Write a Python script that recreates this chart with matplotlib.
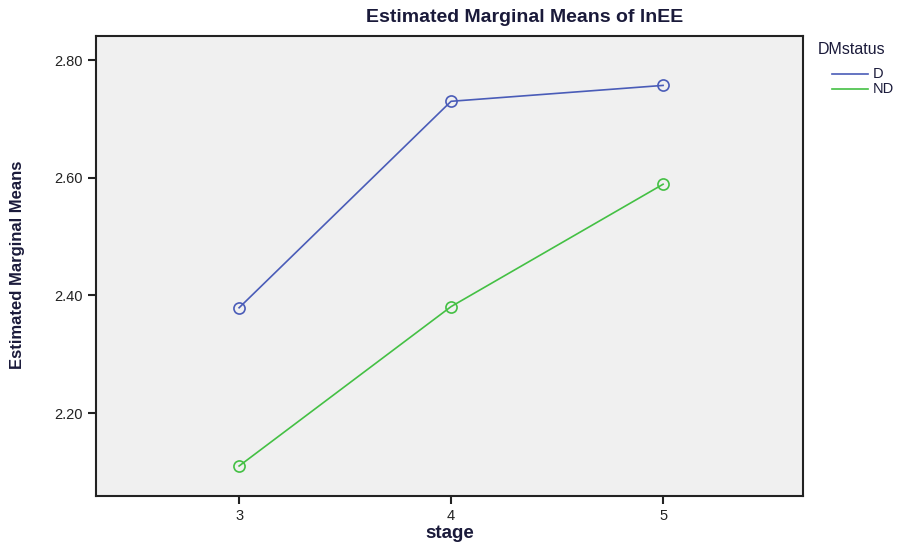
import matplotlib
matplotlib.use('Agg')
import matplotlib.pyplot as plt
from matplotlib.lines import Line2D

# stage levels and estimated marginal means of lnEE
stages = [3, 4, 5]
d_means = [2.379, 2.730, 2.757]
nd_means = [2.110, 2.381, 2.589]
yticks = [2.20, 2.40, 2.60, 2.80]
groups = ['D', 'ND']
colors = ['#4a5cb8', '#44c044']

plt.rcParams['font.family'] = ['Liberation Sans', 'DejaVu Sans']

fig = plt.figure(figsize=(9.19, 5.45), dpi=100)
ax = fig.add_axes([96/919, 1 - 496/545, (803-96)/919, (496-36)/545])
ax.set_facecolor('#f0f0f0')

for vals, name, c in zip([d_means, nd_means], groups, colors):
    ax.plot(stages, vals, color=c, lw=1.2, marker='o', ms=8,
            mfc='none', mec=c, mew=1.2, label=name)

ax.set_xlim(2.325, 5.66)
ax.set_ylim(2.059, 2.841)
ax.set_xticks(stages)
ax.set_yticks(yticks)
ax.set_yticklabels(['%.2f' % v for v in yticks])
ax.tick_params(labelsize=10.5, length=6, width=1.5, colors='#222222')
for s in ax.spines.values():
    s.set_linewidth(1.5)
    s.set_color('#222222')

fig.text(450/919, 1 - 534/545, 'stage', fontsize=13.5, fontweight='bold',
         color='#1a1a3a', ha='center', va='center')
fig.text(18/919, 1 - 265/545, 'Estimated Marginal Means', rotation=90, fontsize=12,
         fontweight='bold', color='#1a1a3a', ha='center', va='center', fontstretch='condensed')
fig.text(525/919, 1 - 17/545, 'Estimated Marginal Means of lnEE', fontsize=14,
         fontweight='bold', color='#1a1a3a', ha='center', va='center')

# legend, SPSS style (title left, entries indented)
fig.text(818/919, 1 - 50/545, 'DMstatus', fontsize=11.5, color='#1a1a3a', va='center')
for i, (name, c) in enumerate(zip(groups, colors)):
    yy = 1 - (74 + 15 * i)/545
    fig.add_artist(Line2D([832/919, 868/919], [yy, yy], color=c, lw=1.2,
                          transform=fig.transFigure))
    fig.text(873/919, yy, name, fontsize=10.5, color='#1a1a3a', va='center')

fig.savefig('out.png', dpi=100)
